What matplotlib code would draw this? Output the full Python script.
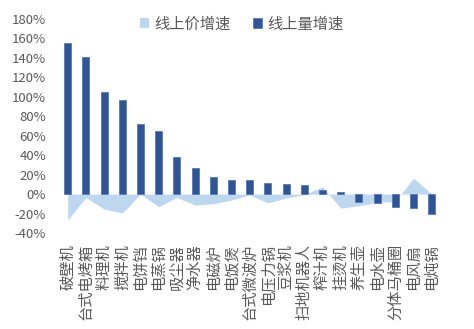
import matplotlib.pyplot as plt
import numpy as np
from matplotlib.ticker import FuncFormatter

plt.rcParams['font.family'] = ['Noto Sans CJK SC', 'DejaVu Sans']

categories = ['破壁机', '台式电烤箱', '料理机', '搅拌机', '电饼铛', '电蒸锅', '吸尘器',
              '净水器', '电磁炉', '电饭煲', '台式微波炉', '电压力锅', '豆浆机', '扫地机器人',
              '榨汁机', '挂烫机', '养生壶', '电水壶', '分体马桶圈', '电风扇', '电炖锅']
# 线上量增速 (%)
volume_growth = [155, 141, 104.5, 97, 72, 64.5, 38.5, 27, 18, 14.5, 14, 11, 10, 9,
                 4, 2, -8.5, -9.2, -13.7, -14.5, -20.5]
# 线上价增速 (%)
price_growth = [-26.5, -3.5, -15.4, -19.5, 0, -13, -3.4, -11.3, -10, -6, -1, -9, -4,
                -0.5, 7.5, -14.4, -12, -8.6, -7.6, 16.5, 0]

grey = '#595959'
x = np.arange(len(categories))

fig = plt.figure(figsize=(4.74, 3.29), dpi=100)
ax = fig.add_axes([0.1236, 0.2918, 0.8064, 0.6504])

ax.fill_between(x, 0, price_growth, color='#BDD7EE', linewidth=0, zorder=1,
                label='线上价增速')
ax.bar(x, volume_growth, width=0.38, color='#2F5597', edgecolor='#4A6FB5',
       linewidth=0.5, zorder=2, label='线上量增速')

ax.set_xlim(-0.5, len(categories) - 0.5)
ax.set_ylim(-40, 180)
ax.set_yticks(np.arange(-40, 181, 20))
ax.yaxis.set_major_formatter(FuncFormatter(lambda v, p: f'{v:.0f}%'))

ax.set_xticks(x)
ax.set_xticklabels(categories, rotation=90, fontsize=11, color=grey)
ax.tick_params(axis='y', labelsize=9.5, colors=grey, length=0, pad=9)
ax.tick_params(axis='x', length=0, pad=8)

for s in ax.spines.values():
    s.set_visible(False)

fig.legend(loc='center', bbox_to_anchor=(0.51, 0.927), ncol=2, frameon=False,
           fontsize=11, labelcolor=grey, handlelength=0.6, handleheight=0.6,
           handletextpad=0.3, columnspacing=1.5)

fig.savefig('out.png', dpi=100)
